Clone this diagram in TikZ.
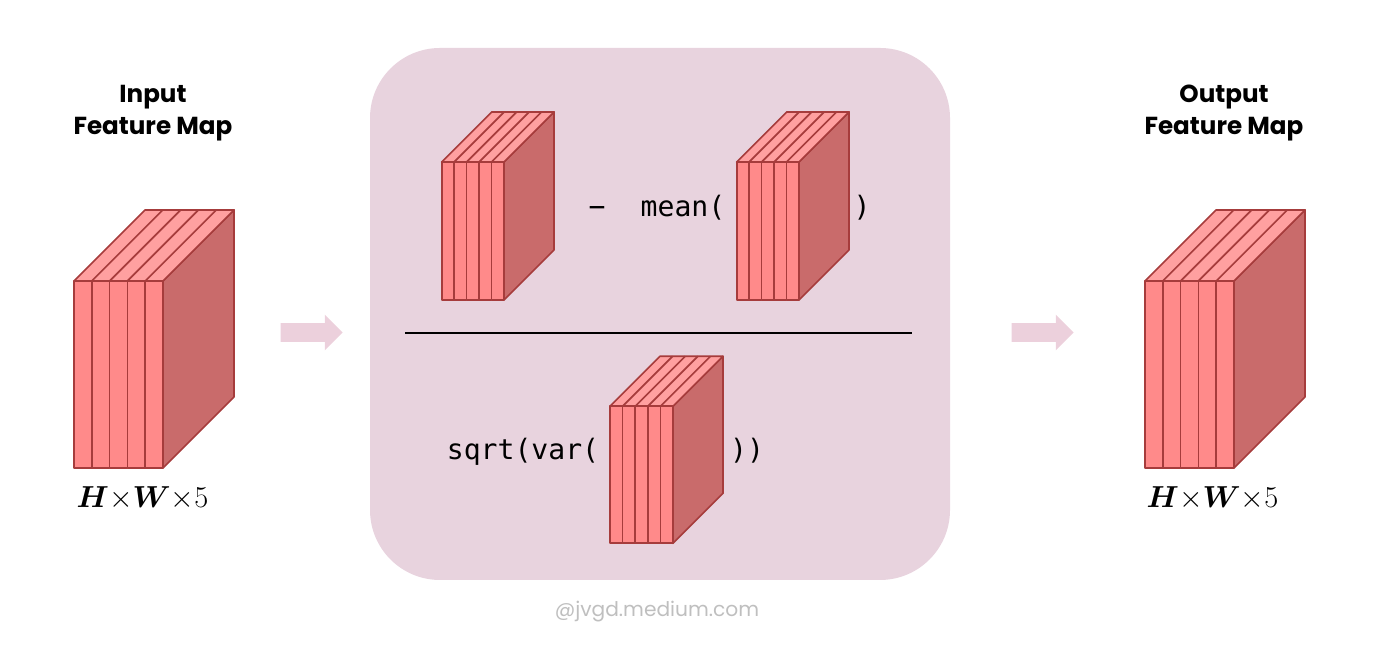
\documentclass[tikz,border=0pt]{standalone}
\usepackage{amsmath,amssymb,bm}
\usepackage{fontspec}
\setmonofont{DejaVu Sans Mono}
\newfontfamily\titlefont{Poppins}
\usepackage{tikz}
\usetikzlibrary{positioning,shapes.arrows,calc}

\definecolor{mapfront}{HTML}{FF8A8A}
\definecolor{maptop}{HTML}{FFA0A0}
\definecolor{mapside}{HTML}{C96B6B}
\definecolor{mapedge}{HTML}{A63C3C}
\definecolor{normbg}{HTML}{E8D3DE}
\definecolor{flowpink}{HTML}{ECD0DC}

% feature map with 5 channel slices: x, y (front bottom-left), width, height, depth
\newcommand{\featmap}[5]{%
  \begin{scope}[shift={(#1,#2)}]
    \filldraw[sideface] (#3,0) -- ++(#5,#5) -- ++(0,#4) -- (#3,#4) -- cycle;
    \filldraw[topface] (0,#4) -- (#3,#4) -- ++(#5,#5) -- ++({-#3},0) -- cycle;
    \foreach \i in {1,...,4} \draw[mapline] ({\i*#3/5},#4) -- ++(#5,#5);
    \foreach \i in {0,...,4} \filldraw[frontface] ({\i*#3/5},0) rectangle ++({#3/5},#4);
  \end{scope}}

\begin{document}
\begin{tikzpicture}[
    line join=round,
    mapline/.style={draw=mapedge, line width=0.95pt},
    frontface/.style={mapline, fill=mapfront},
    topface/.style={mapline, fill=maptop},
    sideface/.style={mapline, fill=mapside},
    title/.style={font=\titlefont\bfseries\fontsize{14}{18.5}\selectfont, align=center},
    dims/.style={font=\fontsize{16}{18}\selectfont, anchor=base},
    code/.style={font=\ttfamily\fontsize{16}{18}\selectfont, anchor=base, inner sep=0pt},
    flow/.style={single arrow, fill=flowpink, draw=none, inner sep=0pt,
        minimum width=0.7cm, minimum height=1.24cm, single arrow head extend=0.17cm,
        text height=0.36cm}
]
\useasboundingbox (0,0) rectangle (28,13);

% normalisation block
\node[fill=normbg, rounded corners=1.4cm, minimum width=11.6cm, minimum height=10.64cm,
      inner sep=0pt] (normbox) at (13.2,6.72) {};

% input
\node[title] (intitle) at (3.06,10.74) {Input\\Feature Map};
\featmap{1.48}{3.64}{1.78}{3.74}{1.42}
\node[dims] (indims) at (2.85,2.84) {$\bm{H}{\times}\bm{W}{\times}5$};

% arrows
\node[flow] (arrowin) at (6.14,6.35) {};
\node[flow] (arrowout) at (20.76,6.35) {};

% numerator
\featmap{8.834}{7.0}{1.246}{2.76}{1.0}
\node[code] (minus) at (11.94,8.67) {−};
\node[code] (meanopen) at (13.66,8.67) {mean(};
\featmap{14.734}{7.0}{1.246}{2.76}{1.0}
\node[code] (meanclose) at (17.24,8.67) {)};

% fraction bar
\coordinate (barL) at (8.1,6.34);
\coordinate (barR) at (18.24,6.34);
\draw[line width=0.8pt] (barL) -- (barR);

% denominator
\node[code] (sqrtopen) at (10.46,3.8) {sqrt(var(};
\featmap{12.2}{2.134}{1.26}{2.74}{1.0}
\node[code] (sqrtclose) at (14.94,3.8) {))};

% output
\node[title] (outtitle) at (24.48,10.74) {Output\\Feature Map};
\featmap{22.9}{3.64}{1.78}{3.74}{1.42}
\node[dims] (outdims) at (24.25,2.84) {$\bm{H}{\times}\bm{W}{\times}5$};

% watermark
\node[font=\titlefont\fontsize{11.5}{14}\selectfont, text=black!25] (mark) at (13.14,0.76) {@jvgd.medium.com};

\end{tikzpicture}
\end{document}
